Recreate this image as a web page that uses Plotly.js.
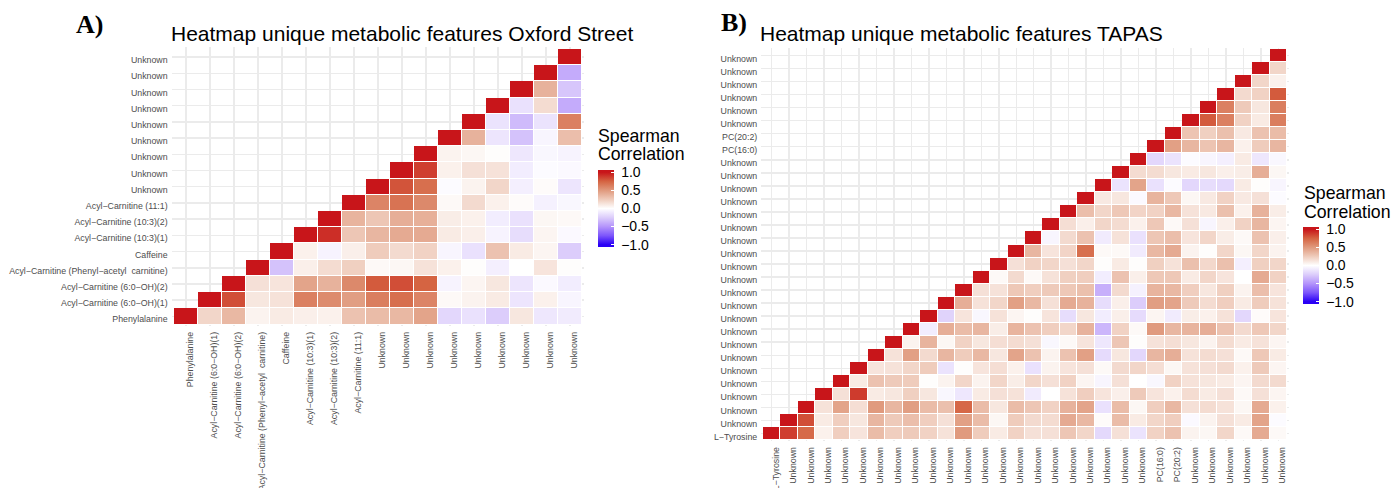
<!DOCTYPE html>
<html><head><meta charset="utf-8">
<script src="https://cdn.plot.ly/plotly-3.0.1.min.js"></script>
<style>html,body{margin:0;padding:0;background:#fff;overflow:hidden}</style></head>
<body><div id="chart" style="width:1392px;height:488px"></div>
<script>
const labelsA = ["Phenylalanine","Acyl−Carnitine (6:0−OH)(1)","Acyl−Carnitine (6:0−OH)(2)","Acyl−Carnitine (Phenyl−acetyl  carnitine)","Caffeine","Acyl−Carnitine (10:3)(1)","Acyl−Carnitine (10:3)(2)","Acyl−Carnitine (11:1)","Unknown","Unknown","Unknown","Unknown","Unknown","Unknown","Unknown","Unknown","Unknown"];
// each row starts at its diagonal cell (bottom row first)
const rowsA = [
[1,.2,.35,.06,.1,.08,.07,.3,.33,.35,.45,-.2,-.15,-.25,.12,-.12,-.1],
[1,.82,.12,.14,.62,.57,.48,.63,.7,.6,.03,.06,.1,-.13,.07,-.05],
[1,.15,.13,.45,.38,.58,.78,.82,.75,-.06,.05,.12,-.13,-.03,-.09],
[1,-.3,.08,.17,.23,.03,.04,.14,.07,.01,-.08,0,.13,.01],
[1,.07,-.06,.08,.25,.18,.22,-.05,-.15,.3,.1,.05,-.25],
[1,.92,.28,.36,.42,.42,.1,.08,-.06,-.17,.05,-.03],
[1,.37,.28,.4,.39,.09,.07,-.09,-.15,.04,.03],
[1,.6,.68,.58,.03,.18,.07,.02,-.07,-.04],
[1,.8,.7,-.02,.06,.2,-.08,.02,-.13],
[1,.87,.07,.15,.14,-.09,-.02,-.03],
[1,.06,.04,.01,-.12,-.04,-.06],
[1,.38,-.13,-.3,-.05,.32],
[1,-.14,-.33,-.14,.62],
[1,-.15,.17,-.4],
[1,.38,-.28],
[1,-.4],
[1]];
const labelsB = ["L−Tyrosine","Unknown","Unknown","Unknown","Unknown","Unknown","Unknown","Unknown","Unknown","Unknown","Unknown","Unknown","Unknown","Unknown","Unknown","Unknown","Unknown","Unknown","Unknown","Unknown","Unknown","Unknown","PC(16:0)","PC(20:2)","Unknown","Unknown","Unknown","Unknown","Unknown","Unknown"];
const rowsB = [
[1,.87,.72,.07,.24,.13,.33,.24,.26,.22,.14,.5,.25,.1,.22,.15,.15,.28,.2,-.19,.15,-.14,.22,.3,.06,.04,.2,.03,.42,.03],
[1,.82,.1,.24,.12,.36,.26,.32,.24,.15,.47,.33,.04,.25,.18,.17,.42,.35,.02,.33,.1,.2,.24,-.03,.06,.15,.1,.45,-.02],
[1,.14,.45,.16,.5,.36,.48,.33,.31,.73,.33,.12,.33,.28,.22,.38,.45,-.15,.33,.04,.24,.35,.15,.17,.14,.04,.42,.07],
[1,.15,.88,.1,.12,.23,.12,-.04,-.12,.1,.15,.14,-.1,0,.14,.24,.13,.08,.26,.13,.07,.17,.1,.15,.03,.15,.05],
[1,.1,.3,.26,.25,.01,.06,.2,.06,.2,.09,.2,.15,.22,.05,-.05,.15,0,-.04,.22,.14,.12,.1,.05,.18,.18],
[1,.13,.14,.2,.25,-.14,.01,.13,.16,.07,-.15,.06,.13,.15,.03,.18,.2,.16,.04,.14,.15,.18,.07,.26,.05],
[1,.14,.47,.18,.36,.25,.35,.12,.45,.3,.06,.3,.47,-.18,.12,-.2,.36,.4,.14,.17,.15,.03,.27,.1],
[1,.06,.37,.04,.22,.12,.16,.17,.15,-.04,.03,.13,-.12,.28,.01,.14,.16,.12,.06,.17,.1,.14,.05],
[1,-.09,.4,.33,.36,.09,.37,.3,.24,.2,.38,-.35,.22,.03,.5,.36,.37,.4,.3,.18,.27,.2],
[1,-.22,.13,-.04,.14,.05,.01,.13,-.17,.12,-.09,.08,-.18,.05,-.1,.09,.07,.14,-.2,.02,.13],
[1,.4,.14,.2,.47,.35,.15,.42,.38,-.17,.08,-.25,.48,.45,.26,.17,.24,.1,.25,.14],
[1,.15,.14,.27,.24,.26,.27,.31,-.38,.18,-.07,.37,.35,.24,.12,.23,.06,.32,.13],
[1,.03,.18,.03,.14,.23,.24,-.09,.3,.08,.27,.27,.1,.2,.13,0,.42,.22],
[1,.15,.22,.2,.15,.2,.01,.1,.01,.23,.14,.31,.19,.31,-.08,.23,.2],
[1,.36,.13,.21,.7,.03,.03,-.1,.35,.42,.06,.01,.2,.04,.2,.06],
[1,-.05,.18,.3,-.1,.14,-.15,.28,.32,.13,.2,.09,.03,.3,.08],
[1,.16,.08,.2,.17,.07,.27,.03,.15,-.05,.08,.22,.36,.05],
[1,.32,.2,.27,.21,.22,.35,.14,.11,.31,.07,.38,.09],
[1,.11,.12,-.03,.37,.27,.04,.11,.22,.11,.15,-.02],
[1,-.14,.45,-.15,-.02,-.2,-.17,-.19,.1,.01,-.05],
[1,.17,.17,.12,.1,.12,.08,.09,.4,.04],
[1,-.2,-.14,-.02,-.05,-.08,.1,-.12,-.04],
[1,.47,.36,.29,.36,.07,.25,.36],
[1,.29,.23,.31,.11,.3,.33],
[1,.78,.62,.22,.1,.63],
[1,.62,.26,.12,.63],
[1,.18,.22,.78],
[1,.2,.07],
[1,.2],
[1]];
const W=1392,H=488;
const lim=1.065;
const pos=v=>(v+lim)/(2*lim);
const scale=[[0,"#2a00f5"],[pos(-1),"#2a00f5"],[pos(-.75),"#7d56fb"],[pos(-.5),"#b494fb"],[pos(-.25),"#dccdfb"],[pos(0),"#ffffff"],[pos(.25),"#efccbc"],[pos(.5),"#e09a7e"],[pos(.75),"#d56442"],[pos(1),"#c8151a"],[1,"#c8151a"]];

function matrix(rows){const n=rows.length;return rows.map((r,i)=>{const a=new Array(n).fill(null);r.forEach((v,k)=>a[i+k]=v);return a;});}
function idx(n){return Array.from({length:n},(_,i)=>i+1);}
function panel(rows,labels,sfx,cfg){
  const n=rows.length,z=matrix(rows),v=idx(n);
  const ax={range:[.4,n+.6],showgrid:true,gridcolor:"#ebebeb",gridwidth:1.5,zeroline:false,showline:false,
    tickmode:"array",tickvals:v,ticktext:labels,ticks:"",automargin:false,
    tickfont:{family:"Liberation Sans",size:cfg.tick,color:"#4d4d4d"}};
  return {
    traces:[
     {type:"heatmap",x:v,y:v,z:z,xaxis:"x"+sfx,yaxis:"y"+sfx,zmin:-1,zmax:1,showscale:false,hoverinfo:"skip",
      colorscale:[[0,"#fff"],[1,"#fff"]]},
     {type:"heatmap",x:v,y:v,z:z,xaxis:"x"+sfx,yaxis:"y"+sfx,zmin:-lim,zmax:lim,xgap:1,ygap:1,colorscale:scale,
      colorbar:{x:cfg.cbx/W,xanchor:"left",xpad:0,ypad:0,y:1-cfg.cbTop/H,yanchor:"top",lenmode:"pixels",len:cfg.cbH,
        thicknessmode:"pixels",thickness:cfg.cbW,outlinewidth:0,tickmode:"linear",tick0:-1,dtick:.5,tickformat:".1f",tickprefix:"\u00a0",
        ticks:"inside",ticklen:3,tickcolor:"#fff",tickwidth:1,tickfont:{family:"Liberation Sans",size:14,color:"#000"}}}
    ],
    xaxis:Object.assign({},ax,{domain:[cfg.x0/W,cfg.x1/W],anchor:"y"+sfx,tickangle:-90,ticklabelshift:4,ticklabelstandoff:3}),
    yaxis:Object.assign({},ax,{domain:[1-cfg.y1/H,1-cfg.y0/H],anchor:"x"+sfx,ticklabelshift:3,ticklabelstandoff:3})
  };
}
const cellAw=24,cellAh=275.5/17,cellBw=17.47,cellBh=391/30;
const A=panel(rowsA,labelsA,"",{x0:174-.1*cellAw,x1:582+.1*cellAw,y0:49-.1*cellAh,y1:324.5+.1*cellAh,tick:8.8,cbx:598,cbW:16,cbTop:170,cbH:77});
const B=panel(rowsB,labelsB,"2",{x0:763-.1*cellBw,x1:1287+.1*cellBw,y0:49-.1*cellBh,y1:440+.1*cellBh,tick:8.8,cbx:1303,cbW:16,cbTop:227,cbH:76.5});
function note(text,x,y,size,family,weight){
  return {text:text,xref:"paper",yref:"paper",x:x/W,y:1-y/H,xanchor:"left",yanchor:"middle",showarrow:false,align:"left",
    font:{family:family,size:size,color:"#000",weight:weight||"normal"}};
}
const sans="Liberation Sans",serif="Liberation Serif";
const layout={width:W,height:H,margin:{l:0,r:0,t:0,b:0},paper_bgcolor:"#fff",plot_bgcolor:"#fff",showlegend:false,
  xaxis:A.xaxis,yaxis:A.yaxis,xaxis2:B.xaxis,yaxis2:B.yaxis,
  annotations:[
    note("A)",74,24,26,serif,"bold"),note("B)",719,23,26,serif,"bold"),
    note("Heatmap unique metabolic features Oxford Street",169,33,21,sans),
    note("Heatmap unique metabolic features TAPAS",758,33,21,sans),
    note("Spearman",596,136,17.7,sans),note("Correlation",596,154,17.7,sans),
    note("Spearman",1302,193,17.7,sans),note("Correlation",1302,212,17.7,sans)
  ]};
Plotly.newPlot("chart",A.traces.concat(B.traces),layout,{displayModeBar:false,staticPlot:true});
</script></body></html>
